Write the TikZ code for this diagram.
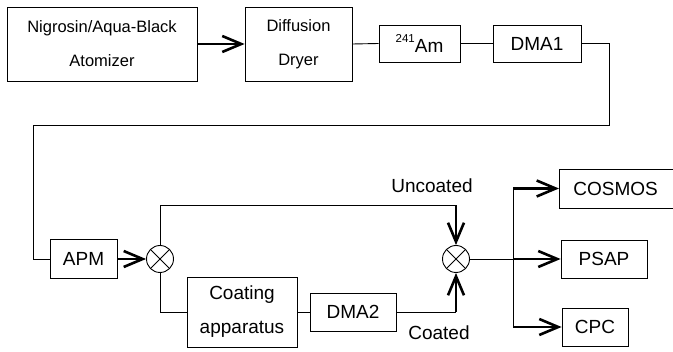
\documentclass[tikz,border=0pt]{standalone}
\usepackage{fontspec}
\setmainfont{Liberation Sans}
\usetikzlibrary{arrows.meta}
\tikzset{
  box/.style={draw, line width=0.8pt, inner sep=0pt, align=center},
  bigtxt/.style={font=\fontsize{19}{34}\selectfont},
  smalltxt/.style={font=\fontsize{16.5}{34}\selectfont},
  thin/.style={line width=0.9pt},
  thk/.style={line width=2.6pt, -{Straight Barb[length=19pt,width=16pt]}},
  mix/.style={draw, circle, line width=0.9pt, minimum size=27pt, inner sep=0pt,
    path picture={\draw[line width=0.8pt] (path picture bounding box.north west)--(path picture bounding box.south east)
      (path picture bounding box.north east)--(path picture bounding box.south west);}},
}
\begin{document}
\begin{tikzpicture}[x=1pt,y=-1pt]
\clip (0,0) rectangle (673,352);
\node[box, smalltxt, minimum width=190pt, minimum height=74pt] (atom) at (102,44) {Nigrosin/Aqua-Black\\Atomizer};
\node[box, smalltxt, minimum width=107pt, minimum height=74pt] (dryer) at (298.5,44) {Diffusion\\Dryer};
\node[box, bigtxt, minimum width=81pt, minimum height=37pt] (am) at (419.5,43.5) {\raisebox{10.5pt}{\fontsize{11.5}{12}\selectfont 241}Am};
\node[box, bigtxt, minimum width=88pt, minimum height=37pt] (dma1) at (537,43.5) {DMA1};
\node[box, bigtxt, minimum width=67pt, minimum height=39pt] (apm) at (83.5,259) {APM};
\node[mix] (mix1) at (160,259) {};
\node[box, bigtxt, minimum width=110pt, minimum height=70pt] (coat) at (242,312) {Coating\\apparatus};
\node[box, bigtxt, minimum width=86pt, minimum height=38pt] (dma2) at (353,312) {DMA2};
\node[mix] (mix2) at (456,259) {};
\node[box, bigtxt, minimum width=150pt, minimum height=39pt, anchor=west, text width=140pt, align=left] (cosmos) at (559,188.5) {\hspace{9pt}COSMOS};
\node[box, bigtxt, minimum width=86pt, minimum height=38pt] (psap) at (604,259) {PSAP};
\node[box, bigtxt, minimum width=66pt, minimum height=38pt] (cpc) at (595,327) {CPC};
\node[bigtxt, anchor=base] (unc) at (432,193) {Uncoated};
\node[bigtxt, anchor=base] (coa) at (439,340) {Coated};

\coordinate (c1) at (456,205.5);
\coordinate (c2) at (456,312);
\coordinate (b0) at (513,259);
\coordinate (b1) at (513,188.5);
\coordinate (b3) at (513,327);

\draw[thk] (atom.east) -- (dryer.west);
\draw[thin] (dryer.east) -- (am.west);
\draw[thin] (am.east) -- (dma1.west);
\draw[thin] (dma1.east) -- (609,43.5) -- (609,125) -- (33,125) |- (apm.west);
\draw[thk] (apm.east) -- (mix1.west);
\draw[thin] (mix1.north) |- (c1);
\draw[thk] (c1) -- (mix2.north);
\draw[thin] (mix1.south) |- (coat.west);
\draw[thin] (coat.east) -- (dma2.west);
\draw[thin] (dma2.east) -- (c2);
\draw[thk] (c2) -- (mix2.south);
\draw[thin] (mix2.east) -- (b0);
\draw[thin] (b1) -- (b3);
\draw[thk] (b1) -- (cosmos.west);
\draw[thk] (b0) -- (psap.west);
\draw[thk] (b3) -- (cpc.west);
\end{tikzpicture}
\end{document}
